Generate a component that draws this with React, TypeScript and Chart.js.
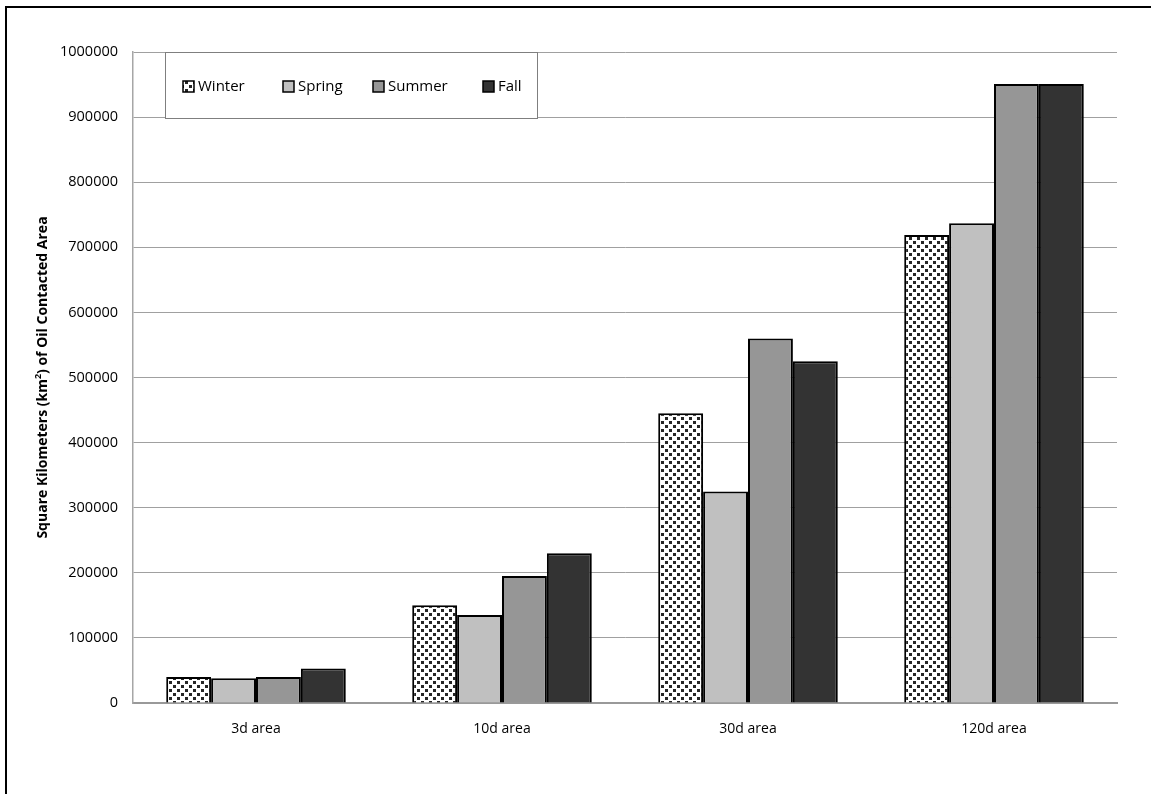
import React, { useEffect, useRef } from 'react';
import { Chart, registerables } from 'chart.js';
Chart.register(...registerables);

const categories = ['3d area', '10d area', '30d area', '120d area'];
const seriesNames = ['Winter', 'Spring', 'Summer', 'Fall'];
const winter = [40000, 150000, 445000, 719000];
const spring = [38000, 135000, 325000, 737000];
const summer = [40000, 195000, 560000, 951000];
const fall = [53000, 230000, 525000, 951000];
const yMin = 0;
const yMax = 1000000;
const yStep = 100000;
const yTitleParts = ['Square Kilometers (km', '2', ') of Oil Contacted Area'];

const FONT = '"Open Sans", "Noto Sans", sans-serif';

function makePattern(): CanvasPattern | string {
  const c = document.createElement('canvas');
  c.width = 8;
  c.height = 8;
  const x = c.getContext('2d');
  if (!x) return '#888';
  x.fillStyle = '#ffffff';
  x.fillRect(0, 0, 8, 8);
  x.fillStyle = '#262626';
  x.fillRect(1, 1, 3, 3);
  x.fillRect(5, 5, 3, 3);
  return x.createPattern(c, 'repeat') || '#888';
}

const overlayPlugin = {
  id: 'overlay',
  afterDraw(chart: any) {
    const { ctx, chartArea } = chart;
    ctx.save();
    // legend box
    const bx = chartArea.left + 32;
    const by = chartArea.top;
    const bw = 372;
    const bh = 66;
    ctx.fillStyle = '#ffffff';
    ctx.fillRect(bx, by, bw, bh);
    ctx.strokeStyle = '#7f7f7f';
    ctx.lineWidth = 1;
    ctx.strokeRect(bx + 0.5, by + 0.5, bw, bh);
    const offs = [18, 118, 208, 318];
    chart.data.datasets.forEach((ds: any, i: number) => {
      const ix = bx + offs[i];
      const iy = by + 29;
      ctx.fillStyle = ds.backgroundColor;
      ctx.fillRect(ix, iy, 11, 11);
      ctx.strokeStyle = '#000';
      ctx.lineWidth = 1.5;
      ctx.strokeRect(ix, iy, 11, 11);
      ctx.fillStyle = '#000';
      ctx.font = `15px ${FONT}`;
      ctx.textBaseline = 'middle';
      ctx.textAlign = 'left';
      ctx.fillText(ds.label, ix + 15, iy + 6);
    });
    // y axis title with superscript, centred on the plot area
    const cy = (chartArea.top + chartArea.bottom) / 2;
    ctx.translate(43, cy);
    ctx.rotate(-Math.PI / 2);
    const mainFont = `bold 14px ${FONT}`;
    const supFont = `bold 9px ${FONT}`;
    ctx.font = mainFont;
    const w0 = ctx.measureText(yTitleParts[0]).width;
    const w2 = ctx.measureText(yTitleParts[2]).width;
    ctx.font = supFont;
    const w1 = ctx.measureText(yTitleParts[1]).width;
    let x = -(w0 + w1 + w2) / 2;
    ctx.fillStyle = '#000';
    ctx.textBaseline = 'middle';
    ctx.textAlign = 'left';
    ctx.font = mainFont;
    ctx.fillText(yTitleParts[0], x, 0);
    x += w0;
    ctx.font = supFont;
    ctx.fillText(yTitleParts[1], x, -5);
    x += w1;
    ctx.font = mainFont;
    ctx.fillText(yTitleParts[2], x, 0);
    ctx.restore();
  },
};

export default function App() {
  const ref = useRef<HTMLCanvasElement>(null);
  useEffect(() => {
    if (!ref.current) return;
    const pattern = makePattern();
    const colors = [pattern, '#c0c0c0', '#969696', '#333333'];
    const values = [winter, spring, summer, fall];
    const chart = new Chart(ref.current, {
      type: 'bar',
      data: {
        labels: categories,
        datasets: seriesNames.map((name, i) => ({
          label: name,
          data: values[i],
          backgroundColor: colors[i] as any,
          borderColor: '#000000',
          borderWidth: 2,
          borderSkipped: 'start',
          barPercentage: 1,
          categoryPercentage: 0.73,
        })),
      },
      options: {
        responsive: false,
        maintainAspectRatio: false,
        animation: false,
        devicePixelRatio: 1,
        layout: { padding: { top: 52, right: 34, left: 0, bottom: 0 } },
        plugins: {
          legend: { display: false },
          title: { display: false },
          tooltip: { enabled: false },
        },
        scales: {
          x: {
            type: 'category',
            grid: { display: false, drawTicks: false },
            border: { display: true, color: '#999999', width: 2 },
            ticks: {
              color: '#000',
              font: { family: FONT, size: 14 },
              padding: 18,
              maxRotation: 0,
            },
            afterFit: (s: any) => {
              s.height = 91;
            },
          },
          y: {
            min: yMin,
            max: yMax,
            ticks: {
              stepSize: yStep,
              color: '#000',
              font: { family: FONT, size: 14.5 },
              padding: 15,
              callback: (v: any) => String(v),
            },
            grid: { color: '#a0a0a0', lineWidth: 1, drawTicks: false },
            border: { display: true, color: '#a6a6a6', width: 1.5 },
            afterFit: (s: any) => {
              s.width = 133;
            },
          },
        },
      },
      plugins: [overlayPlugin],
    });
    return () => chart.destroy();
  }, []);
  return (
    <div style={{ position: 'fixed', left: 0, top: 0, width: 1151, height: 794, background: '#fff', overflow: 'hidden' }}>
      <canvas ref={ref} width={1151} height={794} style={{ position: 'absolute', left: 0, top: 0, width: 1151, height: 794 }} />
      <div
        style={{
          position: 'absolute',
          left: 5,
          top: 6,
          width: 1146,
          height: 788,
          borderLeft: '2px solid #000',
          borderTop: '2px solid #000',
          boxSizing: 'border-box',
          pointerEvents: 'none',
        }}
      />
    </div>
  );
}
